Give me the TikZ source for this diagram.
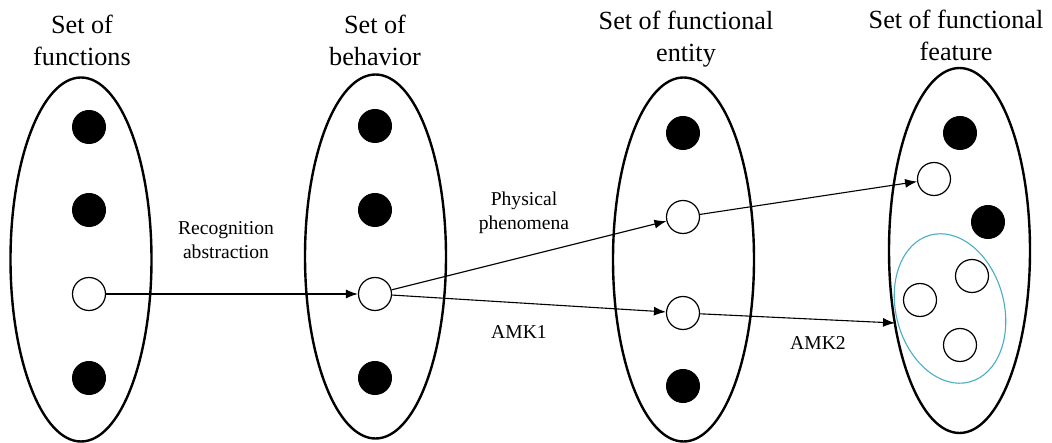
\documentclass[tikz,border=0pt]{standalone}
\usepackage{fontspec}
\setmainfont{Liberation Serif}
\usetikzlibrary{shapes.geometric,arrows.meta}
\definecolor{groupline}{RGB}{75,172,198}
\begin{document}
\begin{tikzpicture}[x=1pt,y=-1pt,
  setbox/.style={draw=black,line width=2.4pt,ellipse,inner sep=0pt,
    minimum width=141pt,minimum height=364pt},
  full/.style={circle,fill=black,draw=black,line width=1pt,inner sep=0pt,minimum size=33pt},
  hollow/.style={circle,fill=white,draw=black,line width=1.2pt,inner sep=0pt,minimum size=33pt},
  title/.style={align=center,font=\fontsize{26.2}{32}\selectfont},
  lbl/.style={align=center,font=\fontsize{19.6}{24}\selectfont},
  link/.style={draw=black,line width=1.1pt,-{Latex[length=12pt,width=9pt]}}]
\useasboundingbox (0,0) rectangle (1052,443);

% the four sets
\node[setbox] (S1) at (81,259.5) {};
\node[setbox] (S2) at (375.5,256.5) {};
\node[setbox] (S3) at (683.5,259.5) {};
\node[setbox,minimum height=365pt] (S4) at (959.5,250.5) {};

% set titles
\node[title] (T1) at (82,40.5) {Set of\\functions};
\node[title] (T2) at (375,40.5) {Set of\\behavior};
\node[title] (T3) at (686,39.5) {Set of functional\\entity};
\node[title] (T4) at (956,35.5) {Set of functional\\feature};

% elements of the set of functions
\node[full] (f1) at (89,127) {};
\node[full] (f2) at (89,210) {};
\node[hollow] (f3) at (89,294) {};
\node[full] (f4) at (89,378) {};

% elements of the set of behavior
\node[full] (b1) at (375,126) {};
\node[full] (b2) at (375,210) {};
\node[hollow] (b3) at (375,294) {};
\node[full] (b4) at (375,378) {};

% elements of the set of functional entity
\node[full] (e1) at (683,133) {};
\node[hollow] (e2) at (683,217) {};
\node[hollow] (e3) at (683,313) {};
\node[full] (e4) at (683,386) {};

% feature group
\node[draw=groupline,line width=1.1pt,ellipse,inner sep=0pt,
  minimum width=108pt,minimum height=152pt,rotate=15] (G) at (950,308.5) {};

% elements of the set of functional feature
\node[full] (r1) at (960,133) {};
\node[hollow] (r2) at (934,179) {};
\node[full] (r3) at (988,222) {};
\node[hollow] (r4) at (972,276) {};
\node[hollow] (r5) at (920,300) {};
\node[hollow] (r6) at (960,345) {};
\coordinate (gin) at (895,323);

% mappings
\draw[link] (f3) -- (b3);
\draw[link] (b3) -- (e2);
\draw[link] (b3) -- (e3);
\draw[link] (e2) -- (r2);
\draw[link] (e3) -- (gin);

% mapping labels
\node[lbl] (L1) at (226,240) {Recognition\\abstraction};
\node[lbl] (L2) at (524,212.5) {Physical\\phenomena};
\node[lbl] (L3) at (519,332) {AMK1};
\node[lbl] (L4) at (818,343) {AMK2};
\end{tikzpicture}
\end{document}
